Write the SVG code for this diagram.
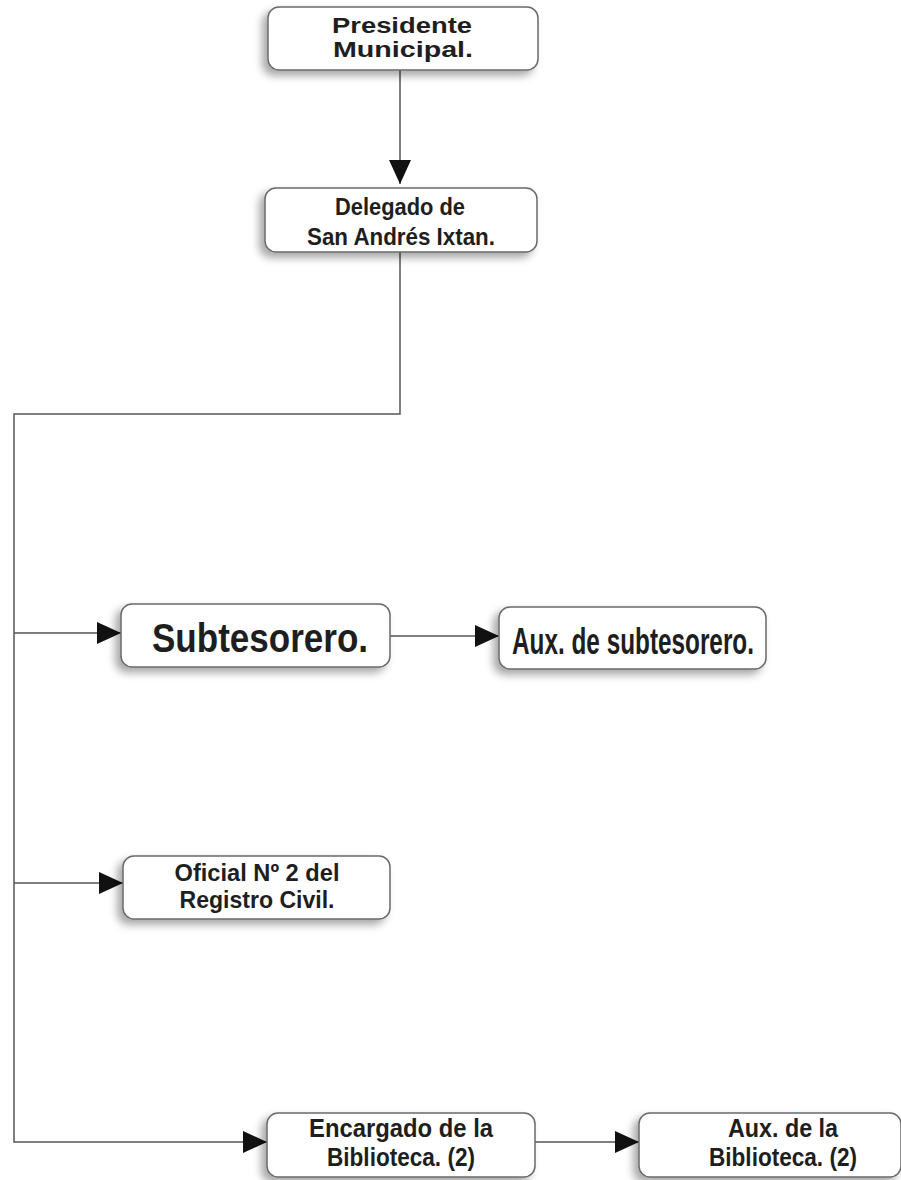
<svg xmlns="http://www.w3.org/2000/svg" width="901" height="1180" viewBox="0 0 901 1180">
<defs>
<filter id="sh" x="-10%" y="-20%" width="120%" height="150%">
<feGaussianBlur in="SourceAlpha" stdDeviation="4"/>
<feOffset dx="-5" dy="5" result="b"/>
<feComponentTransfer><feFuncA type="linear" slope="0.35"/></feComponentTransfer>
<feMerge><feMergeNode/><feMergeNode in="SourceGraphic"/></feMerge>
</filter>
<marker id="ah" markerWidth="24" markerHeight="22" refX="24" refY="11" orient="auto" markerUnits="userSpaceOnUse">
<path d="M0,0 L24,11 L0,22 Z" fill="#111"/>
</marker>
</defs>
<style>
.box{fill:#fff;stroke:#6a6a6a;stroke-width:1.5;filter:url(#sh)}
.t{font-family:"Liberation Sans",Arial,sans-serif;font-weight:bold;fill:#1e1e1e;text-anchor:middle}
.c{fill:none;stroke:#555;stroke-width:1.5}
</style>
<rect width="901" height="1180" fill="#fff"/>
<g id="connectors">
<path class="c" d="M400,70 V184" marker-end="url(#ah)"/>
<path class="c" d="M400,252 V414 H14 V1142 H267" marker-end="url(#ah)"/>
<path class="c" d="M14,633 H121" marker-end="url(#ah)"/>
<path class="c" d="M390,636 H499" marker-end="url(#ah)"/>
<path class="c" d="M14,883 H123" marker-end="url(#ah)"/>
<path class="c" d="M535,1142 H639" marker-end="url(#ah)"/>
</g>
<g id="presidente">
<rect class="box" x="268" y="7" width="270" height="63" rx="11"/>
<text class="t" x="402" y="33" font-size="22" textLength="140" lengthAdjust="spacingAndGlyphs">Presidente</text>
<text class="t" x="403" y="57" font-size="22" textLength="140" lengthAdjust="spacingAndGlyphs">Municipal.</text>
</g>
<g id="delegado">
<rect class="box" x="265" y="188" width="272" height="64" rx="11"/>
<text class="t" x="400" y="215" font-size="24" textLength="130" lengthAdjust="spacingAndGlyphs">Delegado de</text>
<text class="t" x="401" y="245" font-size="24" textLength="188" lengthAdjust="spacingAndGlyphs">San Andrés Ixtan.</text>
</g>
<g id="subtesorero">
<rect class="box" x="121" y="604" width="269" height="63" rx="11"/>
<text class="t" x="260" y="652" font-size="40" textLength="216" lengthAdjust="spacingAndGlyphs">Subtesorero.</text>
</g>
<g id="aux-subtesorero">
<rect class="box" x="499" y="607" width="267" height="62" rx="11"/>
<text class="t" x="633" y="654" font-size="36" textLength="242" lengthAdjust="spacingAndGlyphs">Aux. de subtesorero.</text>
</g>
<g id="oficial">
<rect class="box" x="123" y="856" width="267" height="63" rx="11"/>
<text class="t" x="257" y="881" font-size="24" textLength="165" lengthAdjust="spacingAndGlyphs">Oficial Nº 2 del</text>
<text class="t" x="257" y="908" font-size="24" textLength="155" lengthAdjust="spacingAndGlyphs">Registro Civil.</text>
</g>
<g id="encargado">
<rect class="box" x="267" y="1113" width="268" height="64" rx="11"/>
<text class="t" x="401" y="1137" font-size="25" textLength="184" lengthAdjust="spacingAndGlyphs">Encargado de la</text>
<text class="t" x="401" y="1166" font-size="25" textLength="148" lengthAdjust="spacingAndGlyphs">Biblioteca. (2)</text>
</g>
<g id="aux-biblioteca">
<rect class="box" x="639" y="1113" width="262" height="64" rx="11"/>
<text class="t" x="783" y="1137" font-size="25" textLength="110" lengthAdjust="spacingAndGlyphs">Aux. de la</text>
<text class="t" x="783" y="1166" font-size="25" textLength="148" lengthAdjust="spacingAndGlyphs">Biblioteca. (2)</text>
</g>
</svg>
